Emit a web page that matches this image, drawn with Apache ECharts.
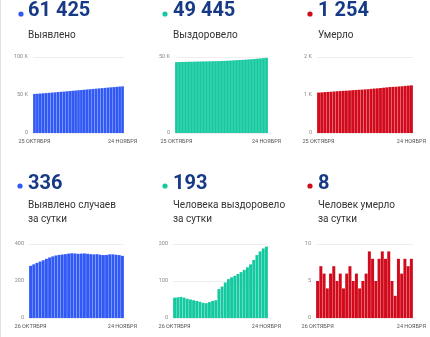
<!DOCTYPE html>
<html><head><meta charset="utf-8">
<script src="https://cdn.jsdelivr.net/npm/echarts@6/dist/echarts.min.js"></script>
<style>html,body{margin:0;padding:0;background:#fff}#c{width:430px;height:337px;border-left:1px solid #e2e2e2;box-sizing:border-box}</style>
</head><body><div id="c"></div>
<script>
// Categories
const daysCum = ["25 ОКТЯБРЯ","26","27","28","29","30","31","1","2","3","4","5","6","7","8","9","10","11","12","13","14","15","16","17","18","19","20","21","22","23","24 НОЯБРЯ"];
const daysDaily = ["26 ОКТЯБРЯ","27","28","29","30","31","1","2","3","4","5","6","7","8","9","10","11","12","13","14","15","16","17","18","19","20","21","22","23","24 НОЯБРЯ"];
// Cumulative series (Oct 25 – Nov 24)
const detectedTotal = [51390,51672,51962,52260,52565,52877,53197,53524,53857,54195,54536,54879,55224,55572,55922,56271,56618,56966,57315,57662,58007,58351,58696,59038,59378,59719,60063,60407,60749,61089,61425];
const recoveredTotal = [46633,46688,46744,46801,46856,46908,46958,47006,47052,47096,47137,47177,47220,47266,47314,47392,47477,47573,47678,47788,47902,48021,48145,48275,48412,48557,48714,48884,49064,49252,49445];
const deathsTotal = [1064,1069,1076,1082,1086,1092,1099,1104,1110,1114,1120,1127,1132,1138,1142,1147,1153,1162,1170,1175,1183,1192,1200,1209,1214,1217,1225,1231,1239,1246,1254];
// Daily series (Oct 26 – Nov 24)
const detectedDaily = [282,290,298,305,312,320,327,333,338,341,343,345,348,350,349,347,348,349,347,345,344,345,342,340,341,344,344,342,340,336];
const recoveredDaily = [55,56,57,55,52,50,48,46,44,41,40,43,46,48,78,85,96,105,110,114,119,124,130,137,145,157,170,180,188,193];
const deathsDaily = [5,7,6,4,6,7,5,6,4,6,7,5,6,4,5,6,9,8,5,8,9,8,9,5,3,8,6,8,7,8];
// Headline texts
const headNumbers = ["61 425","49 445","1 254","336","193","8"];
const headLabels = ["Выявлено","Выздоровело","Умерло","Выявлено случаев\nза сутки","Человека выздоровело\nза сутки","Человек умерло\nза сутки"];
const yMax = [100000,50000,2000,400,200,10];
const yStep = [50000,50000,1000,200,100,5];

const BLUE='#3059f5', TEAL='#14c8a0', RED='#d10a1c', NAVY='#173a86';
const colors=[BLUE,TEAL,RED,BLUE,TEAL,RED];
const grids=[
 {left:32,top:57,width:91,height:76},
 {left:174,top:57,width:93,height:76},
 {left:316,top:57,width:96,height:76},
 {left:28,top:244,width:95,height:74},
 {left:172,top:244,width:95,height:74},
 {left:315,top:244,width:97,height:74}
];
const heads=[
 {dot:[20,14],x:27,y:11,ly:28},
 {dot:[164,14],x:172,y:11,ly:28},
 {dot:[309,14],x:317,y:11,ly:28},
 {dot:[19,186],x:27,y:184,ly:198},
 {dot:[164,186],x:172,y:184,ly:198},
 {dot:[309,186],x:317,y:184,ly:198}
];
const seriesData=[detectedTotal,recoveredTotal,deathsTotal,detectedDaily,recoveredDaily,deathsDaily];
const fmtK=v=> v===0 ? '0' : (v>=1000 ? (v/1000)+' K' : String(v));

const graphic=[];
heads.forEach((h,i)=>{
  graphic.push({type:'circle',shape:{cx:h.dot[0],cy:h.dot[1],r:2.6},style:{fill:colors[i]}});
  graphic.push({type:'text',x:h.x,y:h.y,style:{text:headNumbers[i],fill:NAVY,font:'bold 20px Roboto',textVerticalAlign:'middle'}});
  graphic.push({type:'text',x:h.x,y:h.ly,style:{text:headLabels[i],fill:'#333',font:'10px Roboto',textVerticalAlign:'top',lineHeight:14}});
});

const option={
  animation:false,
  grid:grids,
  xAxis:grids.map((g,i)=>({
    type:'category',gridIndex:i,data:i<3?daysCum:daysDaily,
    axisLine:{show:false},axisTick:{show:false},
    axisLabel:{interval:(idx)=> idx===0 || idx===(i<3?30:29),fontSize:5.5,color:'#555',margin:6,fontFamily:'Roboto'}
  })),
  yAxis:grids.map((g,i)=>({
    type:'value',gridIndex:i,min:0,max:yMax[i],interval:yStep[i],
    axisLabel:{formatter:fmtK,fontSize:5.5,color:'#888',margin:5,fontFamily:'Roboto'},
    splitLine:{lineStyle:{color:'#eeeeee',width:1}}
  })),
  series:seriesData.map((d,i)=>({
    type:'bar',xAxisIndex:i,yAxisIndex:i,data:d,barCategoryGap:'8%',
    itemStyle:{color:colors[i]}
  })),
  graphic:graphic
};
const chart=echarts.init(document.getElementById('c'),null,{renderer:'canvas'});
chart.setOption(option);
</script></body></html>
